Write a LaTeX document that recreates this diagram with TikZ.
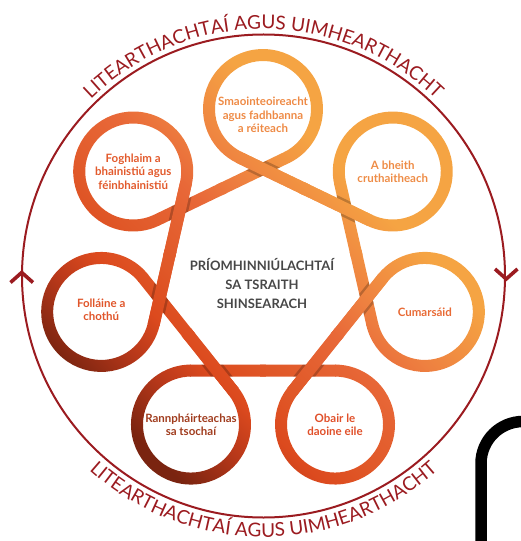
\documentclass[tikz,border=0pt]{standalone}
\usepackage{fontspec}
\setmainfont{Lato}
\usetikzlibrary{calc,decorations.text}

\definecolor{ringred}{HTML}{9B1B20}
\definecolor{coregray}{HTML}{474747}
\definecolor{rg0}{HTML}{7A2410}
\definecolor{rg1}{HTML}{B8381A}
\definecolor{rg2}{HTML}{DC4A1E}
\definecolor{rg3}{HTML}{E05828}
\definecolor{rg4}{HTML}{E86838}
\definecolor{rg5}{HTML}{EE8040}
\definecolor{rg6}{HTML}{F5A443}
\pgfdeclarehorizontalshading{ribbongrad}{100bp}{color(0bp)=(rg0); color(37.25bp)=(rg0); color(40.8bp)=(rg1); color(43.4bp)=(rg2); color(46.1bp)=(rg3); color(50.5bp)=(rg4); color(53.2bp)=(rg5); color(58.1bp)=(rg6); color(100bp)=(rg6)}

% one gradient for the whole ribbon, filled inside a clip
\newcommand\gradfill{\begin{scope}[transform canvas={rotate=45}]\shade[shading=ribbongrad] (-400,-400) rectangle (400,400);\end{scope}}
% ribbon pieces around loop \k
\newcommand\arcpath{($(C\k)+(\ta:60)$) arc[start angle=\ta, end angle=\tb, radius=60] -- ($(C\k)+(\tb:48)$) arc[start angle=\tb, end angle=\ta, radius=48] -- cycle}
\newcommand\outpath{($(C\k)+(\tb:48)+({\tb+90}:-1)$) -- ($(C\k)+(\tb:60)+({\tb+90}:-1)$) -- ($(C\k)!.52!(C\kn)+(\tb:60)$) -- ($(C\k)!.52!(C\kn)+(\tb:48)$) -- cycle}
\newcommand\inpath{($(C\kp)!.48!(C\k)+(\ta:48)$) -- ($(C\kp)!.48!(C\k)+(\ta:60)$) -- ($(C\k)+(\ta:60)+({\ta+90}:1)$) -- ($(C\k)+(\ta:48)+({\ta+90}:1)$) -- cycle}

\tikzset{
  lbl/.style={align=center, inner sep=0pt, font=\fontsize{11.5}{13.3}\selectfont\bfseries},
  ringline/.style={draw=ringred, line width=2pt},
  chev/.style={draw=ringred, line width=3.6pt, line join=miter},
  shadowline/.style={draw=black, line width=5pt, opacity=0.22},
}
\newcommand\ringfont{\fontsize{19}{19}\selectfont\color{ringred}}

\begin{document}
\begin{tikzpicture}[x=1pt, y=1pt]
  \useasboundingbox (-263,-266) rectangle (257,275);

  % loop centres
  \foreach \k in {0,...,6}
    \coordinate (C\k) at ({90-\k*360/7}:166);

  % ribbon
  \foreach \k in {0,...,6}{
    \pgfmathsetmacro\th{90-\k*360/7}
    \pgfmathsetmacro\ta{\th-154.2857}
    \pgfmathsetmacro\tb{\th+154.2857}
    \pgfmathtruncatemacro\kn{mod(\k+1,7)}
    \pgfmathtruncatemacro\kp{mod(\k+6,7)}
    \begin{scope}\clip \arcpath; \gradfill\end{scope}
    \begin{scope}\clip \outpath; \gradfill\end{scope}
    \begin{scope}\clip \inpath; \gradfill\end{scope}
  }

  % crossings: 1 = outgoing strand on top
  \foreach \k/\ov in {0/1,1/0,2/1,3/0,4/1,5/1,6/0}{
    \pgfmathsetmacro\th{90-\k*360/7}
    \pgfmathsetmacro\ta{\th-154.2857}
    \pgfmathsetmacro\tb{\th+154.2857}
    \pgfmathtruncatemacro\kn{mod(\k+1,7)}
    \pgfmathtruncatemacro\kp{mod(\k+6,7)}
    \ifnum\ov=1
      \begin{scope}\clip \inpath;
        \draw[shadowline] ($(C\k)+(\tb:48)$) -- ($(C\k)!.5!(C\kn)+(\tb:48)$);
        \draw[shadowline] ($(C\k)+(\tb:60)$) -- ($(C\k)!.5!(C\kn)+(\tb:60)$);
      \end{scope}
      \begin{scope}\clip \outpath; \gradfill\end{scope}
    \else
      \begin{scope}\clip \outpath;
        \draw[shadowline] ($(C\kp)!.5!(C\k)+(\ta:48)$) -- ($(C\k)+(\ta:48)$);
        \draw[shadowline] ($(C\kp)!.5!(C\k)+(\ta:60)$) -- ($(C\k)+(\ta:60)$);
      \end{scope}
      \begin{scope}\clip \inpath; \gradfill\end{scope}
    \fi
  }

  % outer ring
  \draw[ringline] (0.5,-1) circle[radius=241.5];
  \draw[chev] (-252.5,-7.5) -- (-241.3,2.5) -- (-230,-7.5);
  \draw[chev] (232,6) -- (243.2,-4) -- (254.5,6);
  \path[decorate, decoration={text along path, text align=center,
      text={|\ringfont|LITEARTHACHTAÍ AGUS UIMHEARTHACHT}}]
    (0.5,-1) ++(180:247) arc[start angle=180, end angle=0, radius=247];
  \path[decorate, decoration={text along path, text align=center,
      text={|\ringfont|LITEARTHACHTAÍ AGUS UIMHEARTHACHT}}]
    (0.5,-1) ++(180:261) arc[start angle=180, end angle=360, radius=261];

  % labels
  \node[lbl, text={rgb,255:red,238;green,138;blue,69}] (smao) at ($(C0)+(0,-6)$) {Smaointeoireacht\\agus fadhbanna\\a réiteach};
  \node[lbl, text={rgb,255:red,238;green,140;blue,70}] (bheith) at (C1) {A bheith\\cruthaitheach};
  \node[lbl, text={rgb,255:red,232;green,106;blue,53}] (cumar) at (C2) {Cumarsáid};
  \node[lbl, text={rgb,255:red,224;green,80;blue,42}] (obair) at (C3) {Obair le\\daoine eile};
  \node[lbl, text={rgb,255:red,160;green,60;blue,30}] (rannph) at (C4) {Rannpháirteachas\\sa tsochaí};
  \node[lbl, text={rgb,255:red,224;green,85;blue,42}] (follaine) at ($(C5)+(0,2)$) {Folláine a\\chothú};
  \node[lbl, text={rgb,255:red,226;green,90;blue,44}] (foghlaim) at (C6) {Foghlaim a\\bhainistiú agus\\féinbhainistiú};

  \node[align=center, inner sep=0pt, text=coregray, font=\fontsize{13}{19}\selectfont\bfseries] (core) at (-1,-9) {PRÍOMHINNIÚLACHTAÍ\\SA TSRAITH\\SHINSEARACH};

  % black frame corner
  \draw[line width=11.5pt] (218,-275) -- (218,-188.5) arc[start angle=180, end angle=90, radius=42] -- (275,-146.5);
\end{tikzpicture}
\end{document}
